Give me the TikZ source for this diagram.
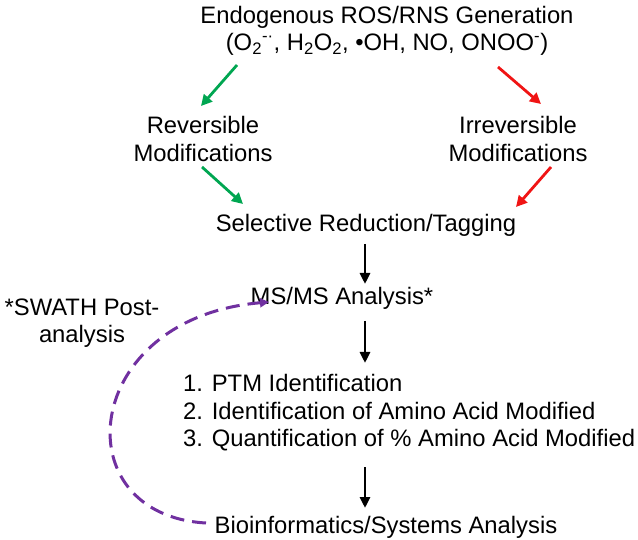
\documentclass[tikz,border=0pt]{standalone}
\usepackage{fontspec}
\setmainfont{Liberation Sans}
\usetikzlibrary{arrows.meta}
\definecolor{grn}{RGB}{0,166,81}
\definecolor{rd}{RGB}{240,20,20}
\definecolor{prp}{RGB}{112,48,160}
\begin{document}
\begin{tikzpicture}[x=1pt,y=-1pt,
  lbl/.style={inner sep=0pt,font=\fontsize{23.8}{27.5}\selectfont,align=center},
  garrow/.style={draw=grn,line width=2.8pt,-{Triangle[length=11pt,width=11pt]},fill=grn},
  rarrow/.style={draw=rd,line width=2.8pt,-{Triangle[length=11pt,width=11pt]},fill=rd},
  karrow/.style={draw=black,line width=2.8pt,-{Triangle[length=11pt,width=10pt]}},
  parrow/.style={draw=prp,line width=3pt,dash pattern=on 14pt off 8pt,-{Triangle[length=9pt,width=9pt]}}]
\useasboundingbox (0,0) rectangle (638,540);
\node[lbl] (title) at (387,31) {Endogenous ROS/RNS Generation\\(O\textsubscript{2}\textsuperscript{-·}, H\textsubscript{2}O\textsubscript{2}, •OH, NO, ONOO\textsuperscript{-})};
\node[lbl] (rev) at (203,139) {Reversible\\Modifications};
\node[lbl] (irr) at (518,139) {Irreversible\\Modifications};
\node[lbl] (sel) at (366,225) {Selective Reduction/Tagging};
\node[lbl] (ms) at (342,298) {MS/MS Analysis*};
\node[lbl,align=left,anchor=west] (list) at (183,413) {1. PTM Identification\\2. Identification of Amino Acid Modified\\3. Quantification of \% Amino Acid Modified};
\node[lbl] (bio) at (386,527) {Bioinformatics/Systems Analysis};
\node[lbl] (swath) at (82,323) {*SWATH Post-\\analysis};
% arrow end coordinates
\coordinate (g1s) at (237,65);  \coordinate (g1e) at (201,106);
\coordinate (r1s) at (498,67);  \coordinate (r1e) at (541,104);
\coordinate (g2s) at (202,167); \coordinate (g2e) at (243,204);
\coordinate (r2s) at (551,167); \coordinate (r2e) at (516,207);
\coordinate (k1s) at (365,244); \coordinate (k1e) at (365,284);
\coordinate (k2s) at (365,321); \coordinate (k2e) at (365,363);
\coordinate (k3s) at (365,467); \coordinate (k3e) at (365,508);
\coordinate (ps) at (206,523);  \coordinate (pe) at (269,302);
\draw[garrow] (g1s) -- (g1e);
\draw[rarrow] (r1s) -- (r1e);
\draw[garrow] (g2s) -- (g2e);
\draw[rarrow] (r2s) -- (r2e);
\draw[karrow] (k1s) -- (k1e);
\draw[karrow] (k2s) -- (k2e);
\draw[karrow] (k3s) -- (k3e);
\draw[parrow] (ps) .. controls (62,515) and (80,318) .. (pe);
\end{tikzpicture}
\end{document}
